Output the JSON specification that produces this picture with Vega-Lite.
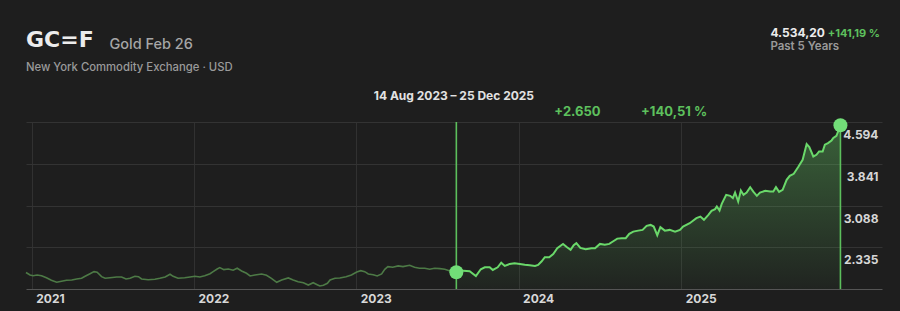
{
  "$schema": "https://vega.github.io/schema/vega-lite/v6.json",
  "width": 856,
  "height": 167,
  "autosize": {"type": "none"},
  "padding": {"left": 26, "top": 122, "right": 18, "bottom": 22},
  "background": "#1e1e1e",
  "config": {"view": {"stroke": null}, "font": "Inter"},
  "datasets": {
    "gold": [
      {"date": "2020-12-19", "price": 1880},
      {"date": "2020-12-28", "price": 1835},
      {"date": "2021-01-04", "price": 1822},
      {"date": "2021-01-13", "price": 1835},
      {"date": "2021-01-23", "price": 1822},
      {"date": "2021-02-03", "price": 1786},
      {"date": "2021-02-14", "price": 1739},
      {"date": "2021-02-26", "price": 1703},
      {"date": "2021-03-09", "price": 1721},
      {"date": "2021-03-20", "price": 1739},
      {"date": "2021-04-01", "price": 1745},
      {"date": "2021-04-12", "price": 1763},
      {"date": "2021-04-23", "price": 1775},
      {"date": "2021-05-01", "price": 1811},
      {"date": "2021-05-12", "price": 1858},
      {"date": "2021-05-21", "price": 1895},
      {"date": "2021-05-28", "price": 1884},
      {"date": "2021-06-07", "price": 1804},
      {"date": "2021-06-15", "price": 1775},
      {"date": "2021-06-26", "price": 1786},
      {"date": "2021-07-11", "price": 1799},
      {"date": "2021-07-22", "price": 1799},
      {"date": "2021-08-01", "price": 1763},
      {"date": "2021-08-10", "price": 1775},
      {"date": "2021-08-21", "price": 1811},
      {"date": "2021-08-29", "price": 1804},
      {"date": "2021-09-05", "price": 1763},
      {"date": "2021-09-20", "price": 1750},
      {"date": "2021-10-05", "price": 1757},
      {"date": "2021-10-16", "price": 1775},
      {"date": "2021-10-28", "price": 1799},
      {"date": "2021-11-08", "price": 1848},
      {"date": "2021-11-15", "price": 1811},
      {"date": "2021-11-26", "price": 1775},
      {"date": "2021-12-11", "price": 1786},
      {"date": "2021-12-23", "price": 1799},
      {"date": "2022-01-03", "price": 1811},
      {"date": "2022-01-14", "price": 1799},
      {"date": "2022-01-25", "price": 1822},
      {"date": "2022-02-06", "price": 1858},
      {"date": "2022-02-13", "price": 1895},
      {"date": "2022-02-22", "price": 1943},
      {"date": "2022-02-28", "price": 1967},
      {"date": "2022-03-09", "price": 1931},
      {"date": "2022-03-19", "price": 1943},
      {"date": "2022-03-30", "price": 1920},
      {"date": "2022-04-08", "price": 1956},
      {"date": "2022-04-18", "price": 1907},
      {"date": "2022-04-29", "price": 1866},
      {"date": "2022-05-07", "price": 1817},
      {"date": "2022-05-18", "price": 1835},
      {"date": "2022-06-02", "price": 1853},
      {"date": "2022-06-13", "price": 1830},
      {"date": "2022-06-24", "price": 1775},
      {"date": "2022-07-06", "price": 1703},
      {"date": "2022-07-17", "price": 1745},
      {"date": "2022-08-01", "price": 1781},
      {"date": "2022-08-12", "price": 1745},
      {"date": "2022-08-23", "price": 1714},
      {"date": "2022-09-04", "price": 1696},
      {"date": "2022-09-15", "price": 1654},
      {"date": "2022-09-26", "price": 1696},
      {"date": "2022-10-05", "price": 1660},
      {"date": "2022-10-11", "price": 1636},
      {"date": "2022-10-19", "price": 1649},
      {"date": "2022-10-28", "price": 1685},
      {"date": "2022-11-03", "price": 1745},
      {"date": "2022-11-14", "price": 1775},
      {"date": "2022-11-25", "price": 1781},
      {"date": "2022-12-09", "price": 1804},
      {"date": "2022-12-21", "price": 1835},
      {"date": "2023-01-02", "price": 1889},
      {"date": "2023-01-11", "price": 1913},
      {"date": "2023-01-20", "price": 1895},
      {"date": "2023-01-28", "price": 1853},
      {"date": "2023-02-08", "price": 1840},
      {"date": "2023-02-17", "price": 1817},
      {"date": "2023-02-27", "price": 1853},
      {"date": "2023-03-06", "price": 1938},
      {"date": "2023-03-13", "price": 1985},
      {"date": "2023-03-24", "price": 1974},
      {"date": "2023-04-05", "price": 1998},
      {"date": "2023-04-16", "price": 1985},
      {"date": "2023-05-01", "price": 2010},
      {"date": "2023-05-12", "price": 1974},
      {"date": "2023-05-23", "price": 1956},
      {"date": "2023-06-04", "price": 1956},
      {"date": "2023-06-15", "price": 1938},
      {"date": "2023-06-26", "price": 1956},
      {"date": "2023-07-08", "price": 1949},
      {"date": "2023-07-19", "price": 1938},
      {"date": "2023-07-29", "price": 1913},
      {"date": "2023-08-14", "price": 1884.2},
      {"date": "2023-08-30", "price": 1913},
      {"date": "2023-09-13", "price": 1902},
      {"date": "2023-09-27", "price": 1817},
      {"date": "2023-10-08", "price": 1938},
      {"date": "2023-10-17", "price": 1974},
      {"date": "2023-10-28", "price": 1974},
      {"date": "2023-11-04", "price": 1925},
      {"date": "2023-11-15", "price": 1974},
      {"date": "2023-11-23", "price": 2057},
      {"date": "2023-12-01", "price": 1998},
      {"date": "2023-12-12", "price": 2034},
      {"date": "2023-12-23", "price": 2046},
      {"date": "2024-01-04", "price": 2034},
      {"date": "2024-01-15", "price": 2021},
      {"date": "2024-01-26", "price": 2010},
      {"date": "2024-02-07", "price": 1998},
      {"date": "2024-02-14", "price": 2016},
      {"date": "2024-02-22", "price": 2082},
      {"date": "2024-02-29", "price": 2155},
      {"date": "2024-03-10", "price": 2155},
      {"date": "2024-03-19", "price": 2214},
      {"date": "2024-03-28", "price": 2317},
      {"date": "2024-04-10", "price": 2395},
      {"date": "2024-04-19", "price": 2335},
      {"date": "2024-04-27", "price": 2287},
      {"date": "2024-05-04", "price": 2372},
      {"date": "2024-05-10", "price": 2408},
      {"date": "2024-05-19", "price": 2323},
      {"date": "2024-05-31", "price": 2299},
      {"date": "2024-06-13", "price": 2317},
      {"date": "2024-06-21", "price": 2317},
      {"date": "2024-07-02", "price": 2395},
      {"date": "2024-07-13", "price": 2382},
      {"date": "2024-07-23", "price": 2395},
      {"date": "2024-08-01", "price": 2444},
      {"date": "2024-08-10", "price": 2491},
      {"date": "2024-08-20", "price": 2498},
      {"date": "2024-08-29", "price": 2498},
      {"date": "2024-09-06", "price": 2576},
      {"date": "2024-09-15", "price": 2617},
      {"date": "2024-09-26", "price": 2635},
      {"date": "2024-10-06", "price": 2648},
      {"date": "2024-10-15", "price": 2720},
      {"date": "2024-10-24", "price": 2738},
      {"date": "2024-10-31", "price": 2708},
      {"date": "2024-11-08", "price": 2552},
      {"date": "2024-11-15", "price": 2697},
      {"date": "2024-11-25", "price": 2635},
      {"date": "2024-12-06", "price": 2648},
      {"date": "2024-12-18", "price": 2617},
      {"date": "2024-12-29", "price": 2648},
      {"date": "2025-01-05", "price": 2708},
      {"date": "2025-01-20", "price": 2769},
      {"date": "2025-02-04", "price": 2859},
      {"date": "2025-02-13", "price": 2888},
      {"date": "2025-02-21", "price": 2829},
      {"date": "2025-03-03", "price": 2919},
      {"date": "2025-03-10", "price": 2991},
      {"date": "2025-03-18", "price": 3022},
      {"date": "2025-03-22", "price": 3069},
      {"date": "2025-03-28", "price": 2997},
      {"date": "2025-04-02", "price": 3118},
      {"date": "2025-04-12", "price": 3280},
      {"date": "2025-04-21", "price": 3262},
      {"date": "2025-04-27", "price": 3221},
      {"date": "2025-05-02", "price": 3322},
      {"date": "2025-05-09", "price": 3159},
      {"date": "2025-05-15", "price": 3358},
      {"date": "2025-05-21", "price": 3280},
      {"date": "2025-05-28", "price": 3322},
      {"date": "2025-06-05", "price": 3419},
      {"date": "2025-06-12", "price": 3340},
      {"date": "2025-06-20", "price": 3262},
      {"date": "2025-06-27", "price": 3322},
      {"date": "2025-07-09", "price": 3353},
      {"date": "2025-07-20", "price": 3340},
      {"date": "2025-07-27", "price": 3340},
      {"date": "2025-08-02", "price": 3419},
      {"date": "2025-08-09", "price": 3335},
      {"date": "2025-08-17", "price": 3371},
      {"date": "2025-08-26", "price": 3551},
      {"date": "2025-09-02", "price": 3624},
      {"date": "2025-09-11", "price": 3660},
      {"date": "2025-09-21", "price": 3781},
      {"date": "2025-10-01", "price": 3913},
      {"date": "2025-10-10", "price": 4196},
      {"date": "2025-10-16", "price": 4142},
      {"date": "2025-10-25", "price": 3972},
      {"date": "2025-11-01", "price": 4003},
      {"date": "2025-11-07", "price": 4063},
      {"date": "2025-11-15", "price": 4063},
      {"date": "2025-11-20", "price": 4184},
      {"date": "2025-11-27", "price": 4214},
      {"date": "2025-12-05", "price": 4261},
      {"date": "2025-12-09", "price": 4305},
      {"date": "2025-12-16", "price": 4346},
      {"date": "2025-12-25", "price": 4534.2}
    ]
  },
  "layer": [
    {
      "data": {"name": "gold"},
      "transform": [{"filter": {"field": "date", "lte": {"year": 2023, "month": 8, "date": 14, "utc": true}}}],
      "mark": {"type": "line", "color": "#4d7a46", "strokeWidth": 1.6},
      "encoding": {
        "x": {
          "field": "date", "type": "temporal",
          "scale": {"domain": [{"year": 2020, "month": 12, "date": 19, "utc": true}, {"year": 2026, "month": 3, "date": 28, "hours": 12, "utc": true}]},
          "axis": {
            "orient": "bottom",
            "values": [
              {"year": 2021, "month": 1, "date": 1, "utc": true},
              {"year": 2022, "month": 1, "date": 1, "utc": true},
              {"year": 2023, "month": 1, "date": 1, "utc": true},
              {"year": 2024, "month": 1, "date": 1, "utc": true},
              {"year": 2025, "month": 1, "date": 1, "utc": true}
            ],
            "format": "%Y",
            "grid": true, "gridColor": "#313131", "gridWidth": 1,
            "domain": true, "domainColor": "#555555", "domainWidth": 1,
            "ticks": false, "tickSize": 0,
            "labelAlign": "left", "labelOffset": 4, "labelPadding": 4, "labelBaseline": "top",
            "labelFlush": false, "labelFont": "Inter", "labelFontSize": 12, "labelFontWeight": "bold",
            "labelColor": "#d8d8d8", "title": null
          }
        },
        "y": {
          "field": "price", "type": "quantitative",
          "scale": {"domain": [1582, 4594], "nice": false, "zero": false},
          "axis": {
            "orient": "right",
            "values": [2335, 3088, 3841, 4594],
            "grid": true, "gridColor": "#333333", "gridWidth": 1,
            "domain": false, "ticks": false, "tickSize": 0,
            "labelAlign": "right", "labelPadding": -4, "labelBaseline": "alphabetic", "labelOffset": 16.5,
            "labelExpr": "replace(format(datum.value, ',d'), ',', '.')",
            "labelFont": "Inter", "labelFontSize": 12, "labelFontWeight": "bold",
            "labelColor": "#d6d6d6", "title": null
          }
        }
      }
    },
    {
      "data": {"name": "gold"},
      "transform": [{"filter": {"field": "date", "gte": {"year": 2023, "month": 8, "date": 14, "utc": true}}}],
      "mark": {
        "type": "area",
        "color": {
          "gradient": "linear", "x1": 0, "y1": 0, "x2": 0, "y2": 1,
          "stops": [
            {"offset": 0, "color": "rgba(106,216,106,0.36)"},
            {"offset": 1, "color": "rgba(106,216,106,0.03)"}
          ]
        }
      },
      "encoding": {
        "x": {"field": "date", "type": "temporal"},
        "y": {"field": "price", "type": "quantitative"},
        "y2": {"datum": 1582}
      }
    },
    {
      "data": {"name": "gold"},
      "transform": [{"filter": {"field": "date", "gte": {"year": 2023, "month": 8, "date": 14, "utc": true}}}],
      "mark": {"type": "line", "color": "#6ad86a", "strokeWidth": 2},
      "encoding": {
        "x": {"field": "date", "type": "temporal"},
        "y": {"field": "price", "type": "quantitative"}
      }
    },
    {
      "data": {"values": [{}]},
      "mark": {"type": "rule", "color": "#5cbf5c", "strokeWidth": 1.6},
      "encoding": {"x": {"datum": {"year": 2023, "month": 8, "date": 14, "utc": true}}}
    },
    {
      "data": {"values": [{}]},
      "mark": {"type": "rule", "color": "#5cbf5c", "strokeWidth": 1.6},
      "encoding": {"x": {"datum": {"year": 2025, "month": 12, "date": 25, "utc": true}}}
    },
    {
      "data": {"name": "gold"},
      "transform": [{"filter": {"or": [
        {"field": "date", "range": [{"year": 2023, "month": 8, "date": 14, "utc": true}, {"year": 2023, "month": 8, "date": 14, "utc": true}]},
        {"field": "date", "gte": {"year": 2025, "month": 12, "date": 25, "utc": true}}
      ]}}],
      "mark": {"type": "circle", "size": 196, "color": "#72de78", "opacity": 1},
      "encoding": {
        "x": {"field": "date", "type": "temporal"},
        "y": {"field": "price", "type": "quantitative"}
      }
    },
    {
      "data": {"values": [{}]},
      "mark": {"type": "text", "text": "GC=F", "align": "left", "baseline": "alphabetic", "font": "DejaVu Sans", "fontSize": 22, "fontWeight": "bold", "color": "#ececec"},
      "encoding": {"x": {"datum": {"year": 2020, "month": 12, "date": 19, "utc": true}}, "y": {"datum": 5942}}
    },
    {
      "data": {"values": [{}]},
      "mark": {"type": "text", "text": "Gold Feb 26", "align": "left", "baseline": "alphabetic", "font": "Inter", "fontSize": 14.5, "fontWeight": 500, "color": "#a6a6a6"},
      "encoding": {"x": {"datum": {"year": 2021, "month": 6, "date": 24, "hours": 14, "utc": true}}, "y": {"datum": 5915}}
    },
    {
      "data": {"values": [{}]},
      "mark": {"type": "text", "text": "New York Commodity Exchange · USD", "align": "left", "baseline": "alphabetic", "font": "Inter", "fontSize": 11.3, "fontWeight": 500, "color": "#9a9a9a"},
      "encoding": {"x": {"datum": {"year": 2020, "month": 12, "date": 19, "utc": true}}, "y": {"datum": 5512}}
    },
    {
      "data": {"values": [{}]},
      "mark": {"type": "text", "text": "4.534,20", "align": "left", "baseline": "alphabetic", "font": "Inter", "fontSize": 12, "fontWeight": "bold", "color": "#ececec"},
      "encoding": {"x": {"datum": {"year": 2025, "month": 7, "date": 20, "hours": 10, "utc": true}}, "y": {"datum": 6130}}
    },
    {
      "data": {"values": [{}]},
      "mark": {"type": "text", "text": "+141,19 %", "align": "right", "baseline": "alphabetic", "font": "Inter", "fontSize": 11, "fontWeight": "bold", "color": "#5dc05d"},
      "encoding": {"x": {"datum": {"year": 2026, "month": 3, "date": 24, "utc": true}}, "y": {"datum": 6130}}
    },
    {
      "data": {"values": [{}]},
      "mark": {"type": "text", "text": "Past 5 Years", "align": "left", "baseline": "alphabetic", "font": "Inter", "fontSize": 11.5, "fontWeight": 600, "color": "#9a9a9a"},
      "encoding": {"x": {"datum": {"year": 2025, "month": 7, "date": 20, "hours": 10, "utc": true}}, "y": {"datum": 5900}}
    },
    {
      "data": {"values": [{}]},
      "mark": {"type": "text", "text": "14 Aug 2023 – 25 Dec 2025", "align": "center", "baseline": "alphabetic", "font": "Inter", "fontSize": 12, "fontWeight": "bold", "color": "#e2e2e2"},
      "encoding": {"x": {"datum": {"year": 2023, "month": 8, "date": 8, "hours": 12, "utc": true}}, "y": {"datum": 4997}}
    },
    {
      "data": {"values": [{}]},
      "mark": {"type": "text", "text": "+2.650", "align": "left", "baseline": "alphabetic", "font": "Inter", "fontSize": 13, "fontWeight": "bold", "color": "#5dc05d"},
      "encoding": {"x": {"datum": {"year": 2024, "month": 3, "date": 21, "hours": 12, "utc": true}}, "y": {"datum": 4695}}
    },
    {
      "data": {"values": [{}]},
      "mark": {"type": "text", "text": "+140,51 %", "align": "left", "baseline": "alphabetic", "font": "Inter", "fontSize": 13, "fontWeight": "bold", "color": "#5dc05d"},
      "encoding": {"x": {"datum": {"year": 2024, "month": 10, "date": 2, "hours": 12, "utc": true}}, "y": {"datum": 4695}}
    }
  ]
}
